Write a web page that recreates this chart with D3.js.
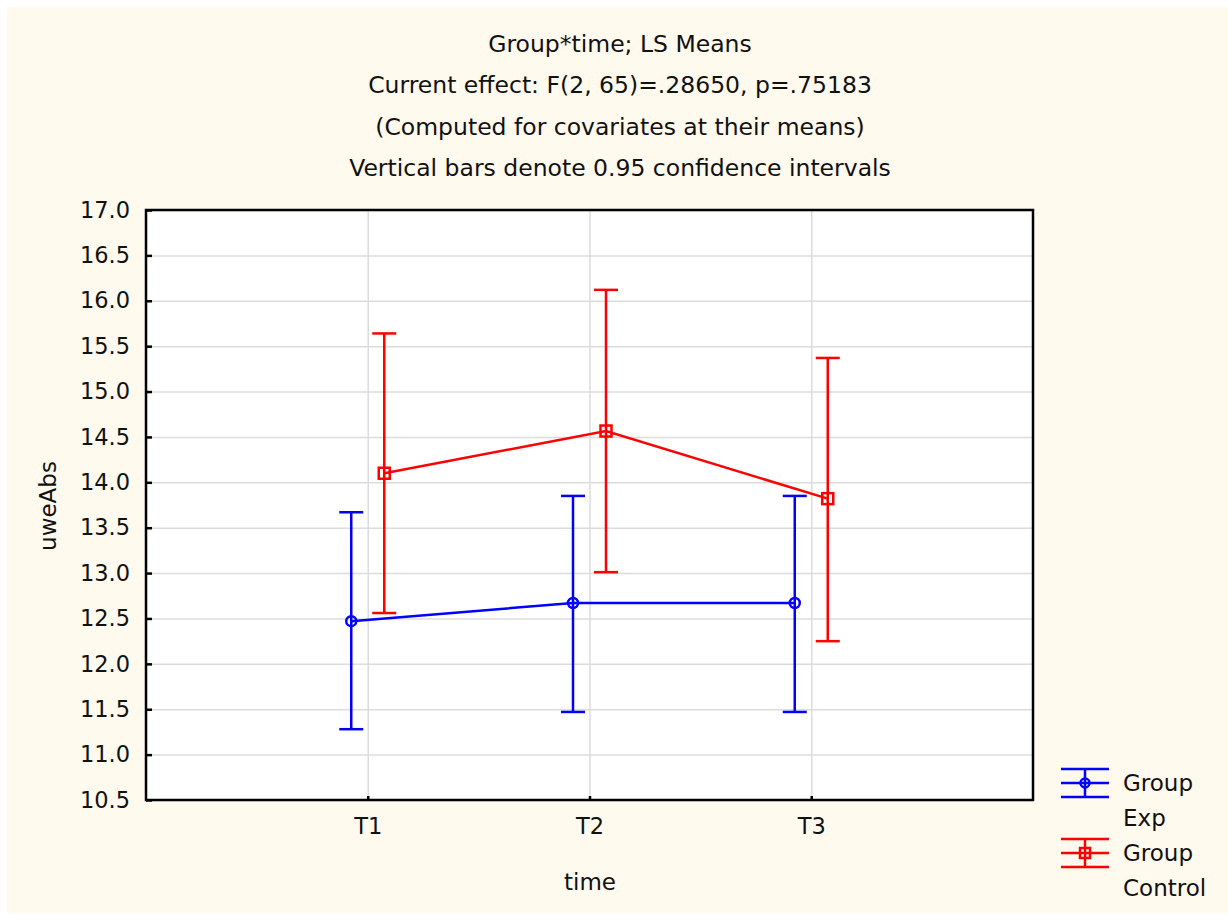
<!DOCTYPE html>
<meta charset="utf-8">
<head lang="en">
    <title>Group*time; LS Means</title>
    <script src="https://cdn.jsdelivr.net/npm/d3@7"></script>
    <style type="text/css">
        body { margin: 0; background: #ffffff; }
        text { font-family: "DejaVu Sans", sans-serif; fill: #111111; }
        .grid line { stroke: #dcdcdc; stroke-width: 1.5; }
        .grid path { display: none; }
        .axis path { display: none; }
        .axis line { stroke: #000; stroke-width: 2.5; }
        .axis text { font-size: 22.5px; font-family: "DejaVu Sans", sans-serif; fill: #111; }
        .series { fill: none; stroke-width: 2.5; }
    </style>
</head>
<body>
<script type="text/javascript">

    // data
    var times = ["T1", "T2", "T3"];
    var expMean = [12.47, 12.67, 12.67];
    var expLow = [11.28, 11.47, 11.47];
    var expHigh = [13.67, 13.85, 13.85];
    var ctrlMean = [14.10, 14.565, 13.82];
    var ctrlLow = [12.56, 13.01, 12.25];
    var ctrlHigh = [15.64, 16.12, 15.37];
    var yTicks = [10.5, 11.0, 11.5, 12.0, 12.5, 13.0, 13.5, 14.0, 14.5, 15.0, 15.5, 16.0, 16.5, 17.0];
    var titleLines = [
        "Group*time; LS Means",
        "Current effect: F(2, 65)=.28650, p=.75183",
        "(Computed for covariates at their means)",
        "Vertical bars denote 0.95 confidence intervals"
    ];

    var width = 1228;
    var height = 915;
    var plot = {left: 146, right: 1033, top: 210, bottom: 800};

    var svg = d3.select("body")
        .append("svg")
        .attr("width", width)
        .attr("height", height);

    // cream page background
    svg.append("rect")
        .attr("x", 7).attr("y", 7)
        .attr("width", width - 7).attr("height", height - 9)
        .attr("fill", "#fff9ee");

    // white plot area
    svg.append("rect")
        .attr("x", plot.left).attr("y", plot.top)
        .attr("width", plot.right - plot.left)
        .attr("height", plot.bottom - plot.top)
        .attr("fill", "#ffffff");

    var xScale = d3.scalePoint()
        .domain(times)
        .range([plot.left, plot.right])
        .padding(1);
    var yScale = d3.scaleLinear()
        .domain([10.5, 17.0])
        .range([plot.bottom, plot.top]);

    //grid lines
    svg.append("g")
        .attr("class", "grid")
        .attr("transform", "translate(" + plot.left + ",0)")
        .call(d3.axisLeft(yScale).tickValues(yTicks).tickSize(-(plot.right - plot.left)).tickFormat(""));
    svg.append("g")
        .attr("class", "grid")
        .attr("transform", "translate(0," + plot.bottom + ")")
        .call(d3.axisBottom(xScale).tickSize(-(plot.bottom - plot.top)).tickFormat(""));

    //axes with inward ticks
    svg.append("g")
        .attr("class", "axis")
        .attr("transform", "translate(" + plot.left + ",0)")
        .call(d3.axisLeft(yScale).tickValues(yTicks).tickSize(-6).tickPadding(16)
            .tickFormat(d3.format(".1f")));
    svg.append("g")
        .attr("class", "axis")
        .attr("transform", "translate(0," + plot.bottom + ")")
        .call(d3.axisBottom(xScale).tickSize(-4).tickPadding(18));

    //frame
    svg.append("rect")
        .attr("x", plot.left).attr("y", plot.top)
        .attr("width", plot.right - plot.left)
        .attr("height", plot.bottom - plot.top)
        .attr("fill", "none")
        .attr("stroke", "#000")
        .attr("stroke-width", 2.5);

    var groups = [
        {name: "Exp", color: "#0000ff", offset: -16.5, mean: expMean, low: expLow, high: expHigh, shape: "circle"},
        {name: "Control", color: "#ff0000", offset: 16.5, mean: ctrlMean, low: ctrlLow, high: ctrlHigh, shape: "square"}
    ];
    var capHalf = 12;

    groups.forEach(function (g) {
        var pts = times.map(function (t, i) {
            return {x: xScale(t) + g.offset, m: g.mean[i], lo: g.low[i], hi: g.high[i]};
        });
        var layer = svg.append("g").attr("class", "series").attr("stroke", g.color);

        // error bars
        pts.forEach(function (p) {
            layer.append("line")
                .attr("x1", p.x).attr("x2", p.x)
                .attr("y1", yScale(p.lo)).attr("y2", yScale(p.hi));
            [p.lo, p.hi].forEach(function (v) {
                layer.append("line")
                    .attr("x1", p.x - capHalf).attr("x2", p.x + capHalf)
                    .attr("y1", yScale(v)).attr("y2", yScale(v));
            });
        });

        // mean line
        layer.append("path")
            .attr("d", d3.line()
                .x(function (d) { return d.x; })
                .y(function (d) { return yScale(d.m); })(pts));

        // markers
        pts.forEach(function (p) {
            if (g.shape === "circle") {
                layer.append("circle")
                    .attr("cx", p.x).attr("cy", yScale(p.m)).attr("r", 5);
            } else {
                layer.append("rect")
                    .attr("x", p.x - 5.5).attr("y", yScale(p.m) - 5.5)
                    .attr("width", 11).attr("height", 11);
            }
        });
    });

    //title lines
    svg.selectAll(".title")
        .data(titleLines)
        .enter()
        .append("text")
        .attr("class", "title")
        .attr("x", 620)
        .attr("y", function (d, i) { return 52 + i * 41.3; })
        .attr("text-anchor", "middle")
        .attr("font-size", "23.5px")
        .text(function (d) { return d; });

    //axis titles
    svg.append("text")
        .attr("x", 590)
        .attr("y", 890)
        .attr("text-anchor", "middle")
        .attr("font-size", "23px")
        .text("time");
    svg.append("text")
        .attr("transform", "translate(56,506) rotate(-90)")
        .attr("text-anchor", "middle")
        .attr("font-size", "23px")
        .text("uweAbs");

    //legend
    var legend = svg.append("g");
    groups.forEach(function (g, i) {
        var cy = 783 + i * 70;
        var lg = legend.append("g").attr("class", "series").attr("stroke", g.color).attr("stroke-width", 3);
        [-14, 0, 14].forEach(function (dy) {
            lg.append("line")
                .attr("x1", 1061).attr("x2", 1109)
                .attr("y1", cy + dy).attr("y2", cy + dy);
        });
        lg.append("line")
            .attr("x1", 1085).attr("x2", 1085)
            .attr("y1", cy - 14).attr("y2", cy + 14);
        if (g.shape === "circle") {
            lg.append("circle").attr("cx", 1085).attr("cy", cy).attr("r", 4.5);
        } else {
            lg.append("rect").attr("x", 1080).attr("y", cy - 5).attr("width", 10).attr("height", 10);
        }
        legend.append("text")
            .attr("x", 1123).attr("y", cy + 8)
            .attr("font-size", "23px")
            .text("Group");
        legend.append("text")
            .attr("x", 1123).attr("y", cy + 43)
            .attr("font-size", "23px")
            .text(g.name);
    });

</script>
</body>
